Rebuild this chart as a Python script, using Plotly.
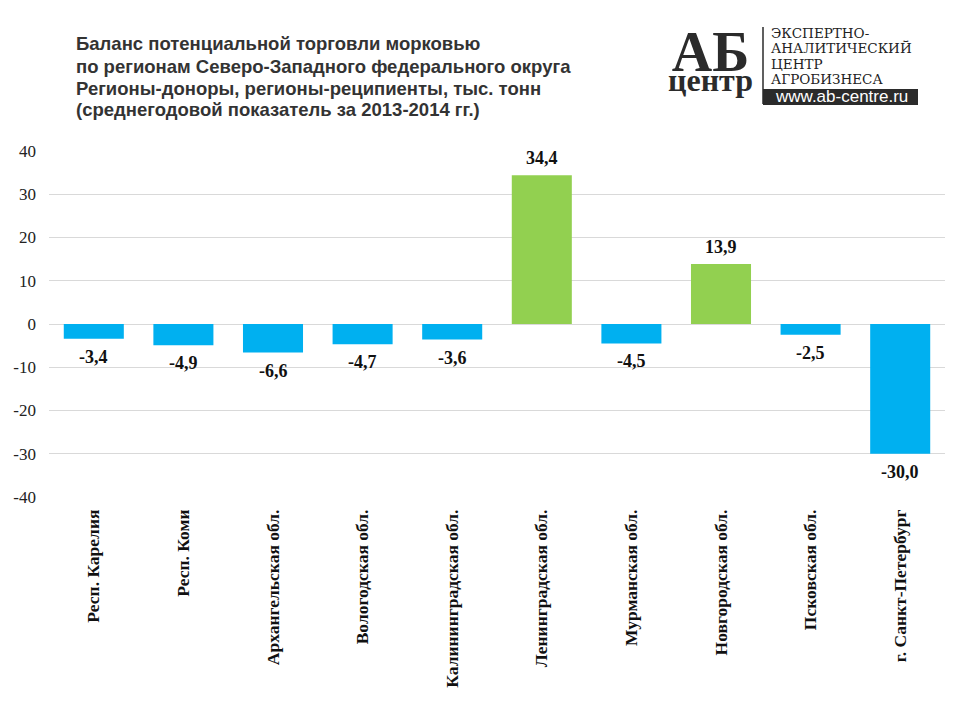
"""
Carrot trade balance by region, NW federal district
"""
import plotly.graph_objs as go

regions = ["Респ. Карелия", "Респ. Коми", "Архангельская обл.", "Вологодская обл.",
           "Калининградская обл.", "Ленинградская обл.", "Мурманская обл.",
           "Новгородская обл.", "Псковская обл.", "г. Санкт-Петербург"]
balance = [-3.4, -4.9, -6.6, -4.7, -3.6, 34.4, -4.5, 13.9, -2.5, -30.0]
y_ticks = [40, 30, 20, 10, 0, -10, -20, -30, -40]
title_lines = ["Баланс потенциальной торговли морковью",
               "по регионам Северо-Западного федерального округа",
               "Регионы-доноры, регионы-реципиенты, тыс. тонн",
               "(среднегодовой показатель за 2013-2014 гг.)"]
logo_lines = ["ЭКСПЕРТНО-", "АНАЛИТИЧЕСКИЙ", "ЦЕНТР", "АГРОБИЗНЕСА"]

BLUE = "#00B0F0"
GREEN = "#92D050"
SERIF = "Liberation Serif, Times New Roman, serif"
SANS = "Liberation Sans, Arial, sans-serif"

# page body has an 8px margin, so the figure is drawn 8px smaller and
# positions below are given in window pixels
OFF = 8
W, H = 960 - OFF, 720 - OFF
L, R, T, B = 49, 945, 151, 497  # plot area in window pixels


def px(x):
    return (x - L) / (R - L)


def py(y):
    return (B - y) / (B - T)


colors = [GREEN if v > 0 else BLUE for v in balance]
labels = [f"{v:.1f}".replace(".", ",") for v in balance]

fig = go.Figure(go.Bar(
    x=regions, y=balance, marker_color=colors, marker_line_width=0,
    width=0.67, hoverinfo="skip",
))

for reg, val, lab in zip(regions, balance, labels):
    fig.add_annotation(
        x=reg, y=val, text=f"<b>{lab}</b>", showarrow=False,
        yanchor="bottom" if val > 0 else "top", yshift=5 if val > 0 else -6,
        font=dict(family=SERIF, size=18, color="#111"),
    )

# title, one line per annotation to control spacing
for i, line in enumerate(title_lines):
    fig.add_annotation(
        xref="paper", yref="paper", x=px(74), y=py(44 + 22 * i), xanchor="left",
        yanchor="middle", showarrow=False, text=f"<b>{line}</b>",
        font=dict(family=SANS, size=18.5, color="#333"),
    )

# logo: big letters stacked in one text, small base size keeps the lines tight
fig.add_annotation(
    xref="paper", yref="paper", x=px(710), y=py(60), xanchor="center",
    yanchor="middle", showarrow=False, align="center",
    text=("<span style='font-size:56px'><b>АБ</b></span><br>"
          "<span style='font-size:32px'><b>центр</b></span>"),
    font=dict(family=SERIF, size=15, color="#2b2b2b"),
)
for i, line in enumerate(logo_lines):
    fig.add_annotation(
        xref="paper", yref="paper", x=px(769), y=py(33 + 15.3 * i), xanchor="left",
        yanchor="middle", showarrow=False, text=line,
        font=dict(family="DejaVu Serif, serif", size=13.5, color="#222"),
    )
fig.add_shape(type="line", xref="paper", yref="paper", x0=px(763), x1=px(763),
              y0=py(27), y1=py(104), line=dict(color="#2b2b2b", width=1.5))
fig.add_shape(type="rect", xref="paper", yref="paper", x0=px(763), x1=px(918),
              y0=py(89), y1=py(105), fillcolor="#2b2b2b", line_width=0, layer="below")
fig.add_annotation(xref="paper", yref="paper", x=px(841), y=py(97), xanchor="center",
                   yanchor="middle", showarrow=False, text="www.ab-centre.ru",
                   font=dict(family=SANS, size=17, color="white"))

fig.update_layout(
    width=W, height=H, plot_bgcolor="white", paper_bgcolor="white",
    margin=dict(l=L - OFF, r=W - (R - OFF), t=T - OFF, b=H - (B - OFF)),
    showlegend=False,
)
fig.update_yaxes(range=[-40, 40], tickvals=y_ticks, ticktext=[str(t) for t in y_ticks],
                 showgrid=True, gridcolor="#d9d9d9", gridwidth=1, zeroline=False,
                 ticks="", ticklabelstandoff=12, automargin=False,
                 tickfont=dict(family=SERIF, size=17, color="#222"))
fig.update_xaxes(showgrid=False, zeroline=False, tickangle=-90, ticks="",
                 ticklabelstandoff=8, tickvals=regions, automargin=False,
                 ticktext=[f"<b>{r}</b>" for r in regions],
                 tickfont=dict(family=SERIF, size=17.5, color="#111"))

fig.write_html("out.html")
